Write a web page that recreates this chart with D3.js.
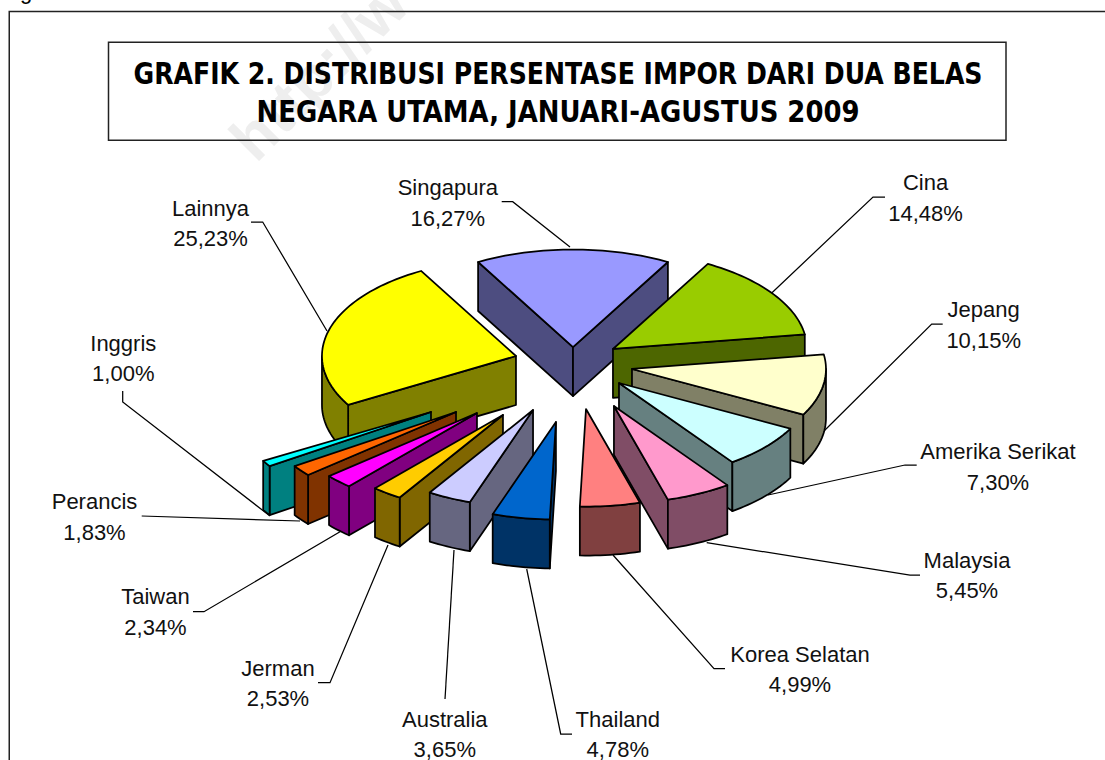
<!DOCTYPE html>
<html><head><meta charset="utf-8">
<script src="https://cdn.jsdelivr.net/npm/d3@7"></script>
<style>html,body{margin:0;padding:0;background:#fff;overflow:hidden}svg{display:block}</style>
</head><body><div id="c"></div>
<script>
// Data
const categories = ["Singapura","Cina","Jepang","Amerika Serikat","Malaysia","Korea Selatan","Thailand","Australia","Jerman","Taiwan","Perancis","Inggris","Lainnya"];
const shares = [16.27,14.48,10.15,7.30,5.45,4.99,4.78,3.65,2.53,2.34,1.83,1.00,25.23];
const titleLines = ["GRAFIK 2. DISTRIBUSI PERSENTASE IMPOR DARI DUA BELAS","NEGARA UTAMA, JANUARI-AGUSTUS 2009"];
// Styling and layout
const topColors = ["#9999FF","#99CC00","#FFFFCC","#CCFFFF","#FF99CC","#FF8080","#0066CC","#CCCCFF","#FFCC00","#FF00FF","#FF6600","#00FFFF","#FFFF00"];
// how far each slice is pulled out, as fractions of the two pie radii
const explodeX = [0,.206,.304,.237,.211,.067,-.088,-.206,-.361,-.495,-.603,-.732,-.294];
const explodeY = [-.174,-.154,.051,.195,.431,.462,.595,.472,.523,.503,.492,.492,-.082];
const labelX = [447.8,925.5,983.7,998,967,800,617.8,444.8,278,155.5,94.5,123.3,210.5];
const labelY = [195,190,317.3,459,567.7,661.7,726.7,726.7,675.7,604.3,509.3,350.7,215.7];
const leaders = [
 [[501.7,201.7],[512.7,201.7],[570,247]],
 [[885,197],[873,197],[771.7,293]],
 [[942.7,324],[931.7,324],[822,433]],
 [[916.7,465],[905,465],[768,495]],
 [[920,575],[910,575],[706.7,542.7]],
 [[725,668.7],[714,668.7],[613,555]],
 [[572,734],[560.7,734],[526.7,569]],
 [[445,699],[454,550]],
 [[318,682.7],[330,682.7],[388,545]],
 [[193,611.7],[204,611.7],[340,531.7]],
 [[141.7,516],[300,521]],
 [[122.7,391],[122.7,402],[270,516]],
 [[251,222],[262.7,222],[327,331]]
];
const W=1105,H=760, cx=573, cy=364, rx=194, ry=97.5, depth=49;
const rad = Math.PI/180;

const svg = d3.select("#c").append("svg").attr("width",W).attr("height",H).attr("viewBox",`0 0 ${W} ${H}`);

// watermark
svg.append("text").attr("transform","translate(256,164) rotate(-45)")
  .attr("font-family","Liberation Sans").attr("font-weight","bold").attr("font-size",62)
  .attr("fill","#eeeeee").text("http://w");

// clipped fragment of text above the frame
svg.append("text").attr("x",20).attr("y",-1).attr("font-family","Liberation Sans").attr("font-size",22).attr("fill","#000").text("g");

// frame: the right and bottom edges lie outside the picture
svg.append("rect").attr("x",9.25).attr("y",11.5).attr("width",W).attr("height",H)
  .attr("fill","none").attr("stroke","#222").attr("stroke-width",1.5);
svg.append("rect").attr("x",108.5).attr("y",42.25).attr("width",897.5).attr("height",98)
  .attr("fill","none").attr("stroke","#222").attr("stroke-width",1.5);

const titleY=[84,122], titleW=[849,603];
svg.selectAll("text.t").data(titleLines).join("text").attr("class","t")
  .attr("x",558).attr("y",(d,i)=>titleY[i]).attr("text-anchor","middle")
  .attr("font-family","DejaVu Sans Condensed, DejaVu Sans").attr("font-weight","bold")
  .attr("font-size",30).attr("fill","#000")
  .attr("textLength",(d,i)=>titleW[i]).attr("lengthAdjust","spacingAndGlyphs").text(d=>d);

// leaders (below the pie)
const line = d3.line();
svg.selectAll("path.leader").data(leaders).join("path").attr("class","leader")
  .attr("d",d=>line(d)).attr("fill","none").attr("stroke","#000").attr("stroke-width",1.25);

// pie layout: Singapura centred on 12 o'clock
const total = d3.sum(shares);
const startOffset = -shares[0]/total*Math.PI;
const slices = d3.pie().sort(null).startAngle(startOffset).endAngle(startOffset+2*Math.PI)(shares)
  .map((s,i)=>({...s,i}));

function pt(s,a,r,dz){ // projected point
  return [cx+explodeX[s.i]*rx+r*rx*Math.sin(a), cy+explodeY[s.i]*ry-r*ry*Math.cos(a)+(dz||0)];
}
function arcPts(s,a0,a1,dz){
  const n=Math.max(2,Math.ceil((a1-a0)/(1.5*rad)));
  return d3.range(n+1).map(k=>pt(s,a0+(a1-a0)*k/n,1,dz));
}
const closed = d3.line().curve(d3.curveLinearClosed);
function depthKey(s){const mid=(s.startAngle+s.endAngle)/2; return explodeY[s.i]*ry-.6*ry*Math.cos(mid);}
const order = slices.slice().sort((a,b)=>depthKey(a)-depthKey(b));

const g = svg.append("g").attr("stroke","#000").attr("stroke-width",1.75).attr("stroke-linejoin","round");
order.forEach(s=>{
  const top=d3.color(topColors[s.i]);
  const wall=d3.rgb(top.r*.5,top.g*.5,top.b*.5).formatHex();
  const sg=g.append("g").attr("class","slice");
  const a0=s.startAngle,a1=s.endAngle;
  const wallPoly=(a)=>[pt(s,0,0),pt(s,a,1),pt(s,a,1,depth),pt(s,0,0,depth)];
  if(Math.sin(a0)<0) sg.append("path").attr("d",closed(wallPoly(a0))).attr("fill",wall);
  if(Math.sin(a1)>0) sg.append("path").attr("d",closed(wallPoly(a1))).attr("fill",wall);
  const lo=Math.max(a0,Math.PI/2), hi=Math.min(a1,1.5*Math.PI);
  if(hi>lo){
    const front=arcPts(s,lo,hi,0), back=arcPts(s,lo,hi,depth).reverse();
    sg.append("path").attr("d",closed(front.concat(back))).attr("fill",wall);
  }
  sg.append("path").attr("d",closed([pt(s,0,0)].concat(arcPts(s,a0,a1,0)))).attr("fill",topColors[s.i]);
});

// labels
const fmt = d=>d3.format(".2f")(d).replace(".",",")+"%";
const lab = svg.selectAll("g.lab").data(categories).join("g").attr("class","lab")
  .attr("font-family","Liberation Sans").attr("font-size",22).attr("fill","#111").attr("text-anchor","middle");
lab.append("text").attr("x",(d,i)=>labelX[i]).attr("y",(d,i)=>labelY[i]).text(d=>d);
lab.append("text").attr("x",(d,i)=>labelX[i]).attr("y",(d,i)=>labelY[i]+30.5).text((d,i)=>fmt(shares[i]));
</script></body></html>
